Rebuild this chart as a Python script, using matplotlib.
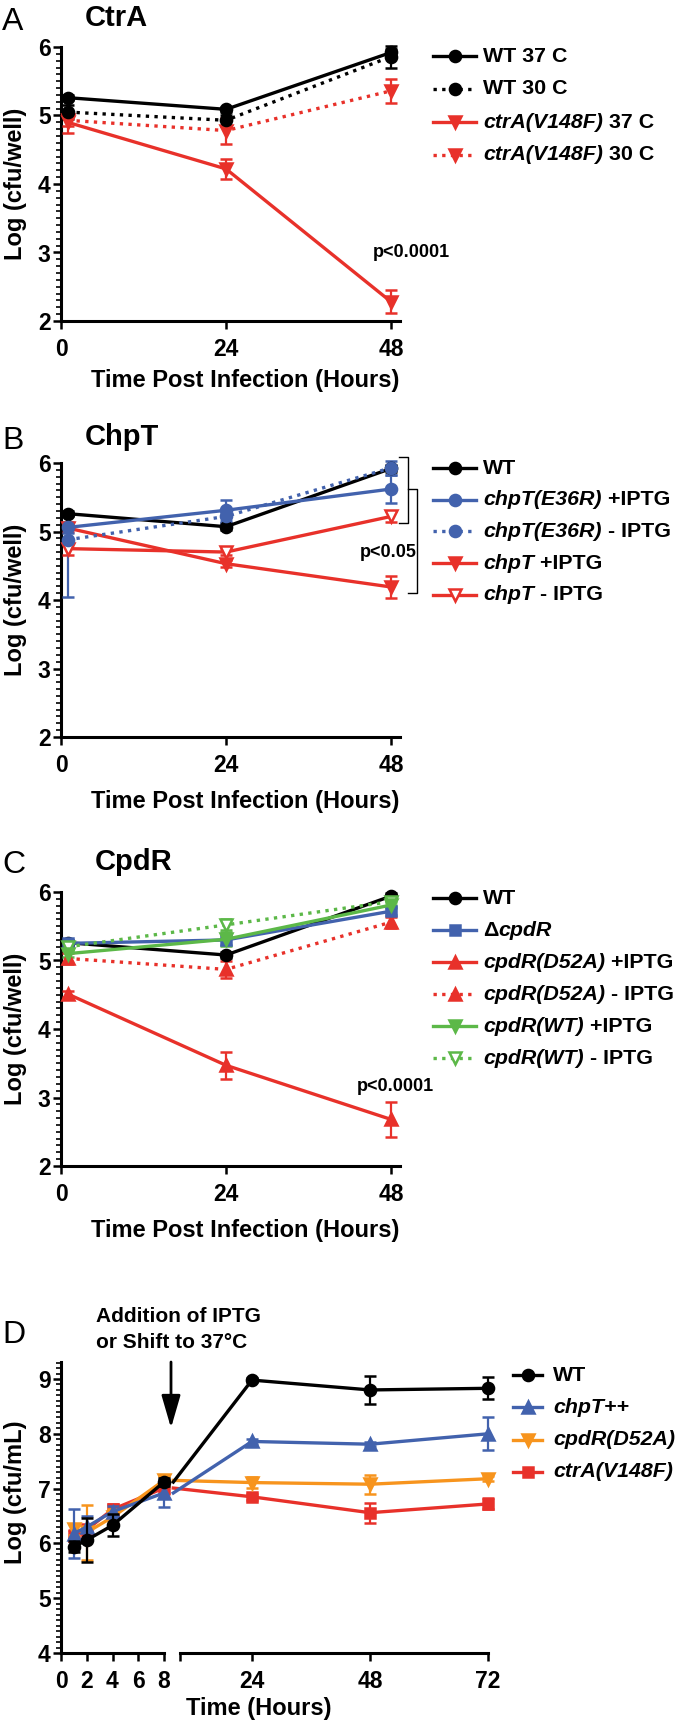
import matplotlib
matplotlib.use('Agg')
import matplotlib.pyplot as plt
from matplotlib.lines import Line2D
from matplotlib.ticker import MultipleLocator

plt.rcParams['font.family'] = ['Liberation Sans', 'DejaVu Sans']
plt.rcParams['font.weight'] = 'bold'

W, H = 681, 1726
RED = '#e8312a'
BLUE = '#4262ad'
GREEN = '#5cb848'
ORANGE = '#f7941d'
BLACK = 'black'
DOT = (0, (1, 1.6))

# ---- data ----
hours = [1, 24, 48]

# A: CtrA
a_wt37 = [5.26, 5.09, 5.92]
a_wt37_err = [0.04, 0.04, 0.05]
a_wt30 = [5.05, 4.93, 5.86]
a_wt30_err = [0.1, 0.08, 0.16]
a_ctra37 = [4.90, 4.22, 2.28]
a_ctra37_err = [0.15, 0.14, 0.17]
a_ctra30 = [4.93, 4.78, 5.36]
a_ctra30_err = [0.08, 0.19, 0.18]

# B: ChpT
b_wt = [5.26, 5.07, 5.92]
b_wt_err = [0.04, 0.05, 0.05]
b_e36r_p = [5.06, 5.31, 5.62]
b_e36r_p_err = [0.08, 0.15, 0.2]
b_e36r_m = [4.88, 5.22, 5.93]
b_e36r_m_err = [[0.83, 0.1, 0.1], [0.2, 0.1, 0.1]]
b_chpt_p = [5.05, 4.53, 4.19]
b_chpt_p_err = [0.05, 0.05, 0.16]
b_chpt_m = [4.75, 4.70, 5.22]
b_chpt_m_err = [0.1, 0.05, 0.08]

# C: CpdR
c_wt = [5.26, 5.08, 5.94]
c_wt_err = [0.04, 0.05, 0.04]
c_dcpdr = [5.25, 5.30, 5.72]
c_dcpdr_err = [0.05, 0.08, 0.06]
c_d52a_p = [4.51, 3.47, 2.68]
c_d52a_p_err = [0.05, 0.2, 0.26]
c_d52a_m = [5.03, 4.87, 5.56]
c_d52a_m_err = [0.08, 0.12, 0.08]
c_wt_p = [5.10, 5.31, 5.81]
c_wt_p_err = [0.05, 0.1, 0.05]
c_wt_m = [5.20, 5.52, 5.86]
c_wt_m_err = [0.05, 0.08, 0.05]

# D: growth in culture
d_hours = [1, 2, 4, 8, 24, 48, 72]
d_wt = [5.94, 6.06, 6.33, 7.12, 8.98, 8.80, 8.83]
d_wt_err = [0.1, 0.4, 0.2, 0.08, 0.04, 0.25, 0.2]
d_chpt = [6.18, 6.30, 6.58, 6.92, 7.86, 7.81, 8.00]
d_chpt_err = [0.45, 0.2, 0.1, 0.25, 0.04, 0.04, 0.3]
d_cpdr = [6.26, 6.20, 6.48, 7.15, 7.11, 7.08, 7.18]
d_cpdr_err = [0.1, 0.5, 0.15, 0.08, 0.1, 0.17, 0.05]
d_ctra = [6.14, 6.25, 6.62, 7.01, 6.85, 6.56, 6.72]
d_ctra_err = [0.1, 0.1, 0.1, 0.1, 0.05, 0.18, 0.1]

fig = plt.figure(figsize=(W / 100, H / 100), dpi=100)


def fx(px):
    return px / W


def fy(py):
    return 1 - py / H


def make_axes(left, top, right, bottom):
    return fig.add_axes([fx(left), fy(bottom), (right - left) / W, (bottom - top) / H])


def style_axes(ax, ylim, xlim, xticks):
    for s in ['top', 'right']:
        ax.spines[s].set_visible(False)
    for s in ['left', 'bottom']:
        ax.spines[s].set_linewidth(2.2)
    ax.set_ylim(*ylim)
    ax.set_xlim(*xlim)
    ax.set_xticks(xticks)
    ax.yaxis.set_major_locator(MultipleLocator(1))
    ax.yaxis.set_minor_locator(MultipleLocator(0.1))
    ax.tick_params(axis='both', which='major', length=6, width=1.8, labelsize=16.5)
    ax.tick_params(axis='y', which='major', pad=1.5)
    ax.tick_params(axis='x', which='major', pad=6)
    ax.tick_params(axis='y', which='minor', length=3.5, width=1.2)
    ax.patch.set_alpha(0)


def series(ax, x, y, err, color, marker, ls='-', mfc=None, ms=8, z=3):
    ax.errorbar(x, y, yerr=err, color=color, marker=marker, ls=ls, lw=2.4,
                ms=ms, mfc=mfc if mfc else color, mew=1.8, capsize=4.5,
                elinewidth=1.6, capthick=1.6, clip_on=False, zorder=z)


def legend(ax, rows, x0, x1, tx, y0, dy, fs=15.4):
    for i, (parts, color, marker, ls, mfc, ms) in enumerate(rows):
        y = y0 + i * dy
        fig.add_artist(Line2D([fx(x0), fx(x1)], [fy(y), fy(y)], transform=fig.transFigure,
                              color=color, lw=2.4, ls=ls))
        fig.add_artist(Line2D([fx((x0 + x1) / 2)], [fy(y)], transform=fig.transFigure,
                              color=color, marker=marker, ms=ms, mfc=mfc, mew=1.8, ls='none'))
        prev = None
        for text, italic in parts:
            st = 'italic' if italic else 'normal'
            if prev is None:
                prev = fig.text(fx(tx), fy(y), text, va='center', ha='left', fontsize=fs, style=st)
            else:
                prev = ax.annotate(text, xy=(1, 0), xycoords=prev, va='bottom', ha='left',
                                   fontsize=fs, style=st)


def titles(letter, name, name_x, base_y, letter_base_y):
    fig.text(fx(2), fy(letter_base_y), letter, fontsize=23, fontweight='normal', va='baseline')
    fig.text(fx(name_x), fy(base_y), name, fontsize=21, va='baseline')


def labels(ylab, ycenter, xlab, xcenter, xbase):
    fig.text(fx(16), fy(ycenter), ylab, rotation=90, ha='center', va='center', fontsize=17)
    fig.text(fx(xcenter), fy(xbase), xlab, ha='center', va='baseline', fontsize=17)


XLIM = (0, 49.3)

# ---- Panel A ----
axA = make_axes(61, 47, 400, 321)
style_axes(axA, (2, 6), XLIM, [0, 24, 48])
series(axA, hours, a_ctra30, a_ctra30_err, RED, 'v', ls=DOT, ms=9)
series(axA, hours, a_ctra37, a_ctra37_err, RED, 'v', ms=9)
series(axA, hours, a_wt30, a_wt30_err, BLACK, 'o', ls=DOT)
series(axA, hours, a_wt37, a_wt37_err, BLACK, 'o', z=4)
axA.text(50.9, 3.0, 'p<0.0001', fontsize=13, ha='center', va='center')
titles('A', 'CtrA', 85, 26, 30)
labels('Log (cfu/well)', 184, 'Time Post Infection (Hours)', 245, 387)
legend(axA, [
    ([('WT 37 C', False)], BLACK, 'o', '-', BLACK, 8),
    ([('WT 30 C', False)], BLACK, 'o', DOT, BLACK, 8),
    ([('ctrA(V148F)', True), (' 37 C', False)], RED, 'v', '-', RED, 9),
    ([('ctrA(V148F)', True), (' 30 C', False)], RED, 'v', DOT, RED, 9),
], 433, 476, 483, 56, 33)

# ---- Panel B ----
axB = make_axes(61, 463, 400, 737)
style_axes(axB, (2, 6), XLIM, [0, 24, 48])
series(axB, hours, b_chpt_m, b_chpt_m_err, RED, 'v', mfc='white', ms=9)
series(axB, hours, b_chpt_p, b_chpt_p_err, RED, 'v', ms=9)
series(axB, hours, b_wt, b_wt_err, BLACK, 'o')
series(axB, hours, b_e36r_m, b_e36r_m_err, BLUE, 'o', ls=DOT)
series(axB, hours, b_e36r_p, b_e36r_p_err, BLUE, 'o')
# significance brackets
axB.plot([49.2, 50.5, 50.5, 49.2], [6.09, 6.09, 5.12, 5.12], color=BLACK, lw=1, clip_on=False)
axB.plot([50.5, 51.8, 51.8, 50.5], [5.62, 5.62, 4.10, 4.10], color=BLACK, lw=1, clip_on=False)
axB.text(47.6, 4.70, 'p<0.05', fontsize=13, ha='center', va='center')
titles('B', 'ChpT', 85, 445, 449)
labels('Log (cfu/well)', 600, 'Time Post Infection (Hours)', 245, 808)
legend(axB, [
    ([('WT', False)], BLACK, 'o', '-', BLACK, 8),
    ([('chpT(E36R)', True), (' +IPTG', False)], BLUE, 'o', '-', BLUE, 8),
    ([('chpT(E36R)', True), (' - IPTG', False)], BLUE, 'o', DOT, BLUE, 8),
    ([('chpT', True), (' +IPTG', False)], RED, 'v', '-', RED, 9),
    ([('chpT', True), (' - IPTG', False)], RED, 'v', '-', 'white', 9),
], 433, 476, 483, 468, 31.75)

# ---- Panel C ----
axC = make_axes(61, 892, 400, 1166)
style_axes(axC, (2, 6), XLIM, [0, 24, 48])
series(axC, hours, c_d52a_p, c_d52a_p_err, RED, '^', ms=9)
series(axC, hours, c_d52a_m, c_d52a_m_err, RED, '^', ls=DOT, ms=9)
series(axC, hours, c_wt, c_wt_err, BLACK, 'o')
series(axC, hours, c_dcpdr, c_dcpdr_err, BLUE, 's', ms=7)
series(axC, hours, c_wt_m, c_wt_m_err, GREEN, 'v', ls=DOT, mfc='white', ms=9)
series(axC, hours, c_wt_p, c_wt_p_err, GREEN, 'v', ms=9)
axC.text(48.6, 3.16, 'p<0.0001', fontsize=13, ha='center', va='center')
titles('C', 'CpdR', 95, 870, 873)
labels('Log (cfu/well)', 1029, 'Time Post Infection (Hours)', 245, 1237)
legend(axC, [
    ([('WT', False)], BLACK, 'o', '-', BLACK, 8),
    ([('\u0394', False), ('cpdR', True)], BLUE, 's', '-', BLUE, 7),
    ([('cpdR(D52A)', True), (' +IPTG', False)], RED, '^', '-', RED, 9),
    ([('cpdR(D52A)', True), (' - IPTG', False)], RED, '^', DOT, RED, 9),
    ([('cpdR(WT)', True), (' +IPTG', False)], GREEN, 'v', '-', GREEN, 9),
    ([('cpdR(WT)', True), (' - IPTG', False)], GREEN, 'v', DOT, 'white', 9),
], 433, 476, 483, 898, 32)

# ---- Panel D (broken x axis) ----
axL = make_axes(61, 1362, 164, 1653)
axR = make_axes(180, 1362, 488, 1653)
style_axes(axL, (4, 9.31), (0, 8), [0, 2, 4, 6, 8])
style_axes(axR, (4, 9.31), (9.36, 72), [9.36, 24, 48, 72])
axR.set_xticklabels(['', '24', '48', '72'])
axR.spines['left'].set_visible(False)
axR.tick_params(axis='y', which='both', left=False, labelleft=False)

d_series = [
    (d_ctra, d_ctra_err, RED, 's', 7),
    (d_cpdr, d_cpdr_err, ORANGE, 'v', 9),
    (d_chpt, d_chpt_err, BLUE, '^', 9),
    (d_wt, d_wt_err, BLACK, 'o', 8),
]
n_early = sum(1 for h in d_hours if h <= 8)
for i, (vals, err, color, marker, ms) in enumerate(d_series):
    z = 3 + i
    series(axL, d_hours[:n_early], vals[:n_early], err[:n_early], color, marker, ms=ms, z=z)
    series(axR, d_hours[n_early:], vals[n_early:], err[n_early:], color, marker, ms=ms, z=z)
    # segment bridging the axis break
    axR.plot(d_hours[n_early - 1:n_early + 1], vals[n_early - 1:n_early + 1], color=color,
             lw=2.4, clip_on=False, zorder=z)

fig.text(fx(2), fy(1343), 'D', fontsize=23, fontweight='normal', va='baseline')
fig.text(fx(96), fy(1322), 'Addition of IPTG', fontsize=15, va='baseline')
fig.text(fx(96), fy(1348), 'or Shift to 37\u00b0C', fontsize=15, va='baseline')
axL.annotate('', xy=(fx(171), fy(1428)), xycoords='figure fraction',
             xytext=(fx(171), fy(1362)), textcoords='figure fraction',
             arrowprops=dict(arrowstyle='-|>,head_length=1.0,head_width=0.29',
                             mutation_scale=20, lw=2, color=BLACK, shrinkA=0, shrinkB=0))
fig.text(fx(16), fy(1492), 'Log (cfu/mL)', rotation=90, ha='center', va='center', fontsize=17)
fig.text(fx(259), fy(1715), 'Time (Hours)', ha='center', va='baseline', fontsize=17)
legend(axR, [
    ([('WT', False)], BLACK, 'o', '-', BLACK, 8),
    ([('chpT++', True)], BLUE, '^', '-', BLUE, 9),
    ([('cpdR(D52A)', True)], ORANGE, 'v', '-', ORANGE, 9),
    ([('ctrA(V148F)', True)], RED, 's', '-', RED, 7),
], 513, 542, 553, 1375, 32.3)

fig.savefig('out.png', dpi=100)
